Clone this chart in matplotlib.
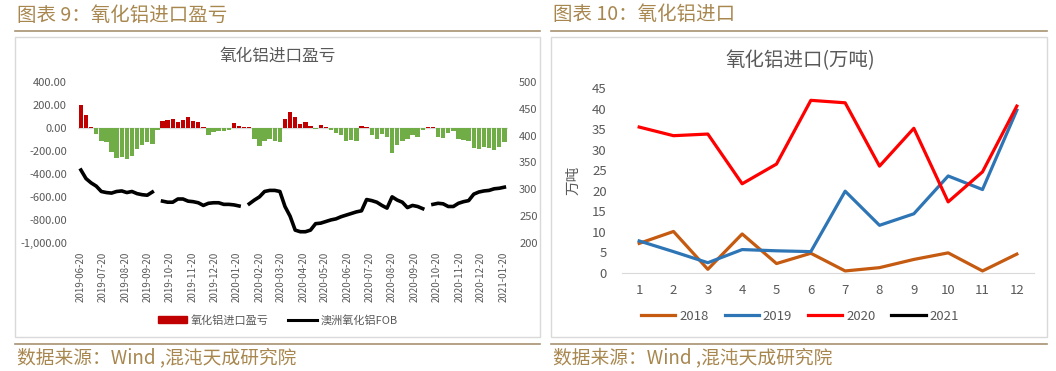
import matplotlib
matplotlib.use("Agg")
import matplotlib.pyplot as plt
import matplotlib.dates as mdates
from matplotlib.lines import Line2D
from matplotlib.patches import Patch, Rectangle
from matplotlib.ticker import FuncFormatter
import numpy as np
import pandas as pd

plt.rcParams["font.family"] = ["Noto Sans CJK SC", "DejaVu Sans"]

W, H = 1056, 371
GRAY = "#595959"
GOLD = "#A8874F"
RULE = "#A89272"

# chart 9: weekly import profit/loss and Australian alumina FOB
WEEK_START = "2019-06-20"
PROFIT = [
    200, 110, 10, -50, -110, -125, -212, -264, -255, -270,
    -241, -183, -148, -125, -139, -15, 65, 72, 78, 56,
    70, 93, 64, 56, 10, -60, -37, -30, -30, -15,
    47, 20, 5, 8, -93, -160, -110, -95, -110, -125,
    80, 137, 93, 35, 50, 20, -10, 25, 8, -20,
    -40, -60, -117, -108, -117, 20, 8, -60, -93, -50,
    -78, -220, -150, -117, -93, -60, -78, -20, 10, 12,
    -78, -88, -40, -30, -93, -108, -117, -175, -180, -165,
    -175, -188, -165, -120,
]
FOB = [
    336, 320, 312, 306, 296, 294, 293, 296, 297, 294,
    296, 292, 290, 289, 295, np.nan, 278, 276, 276, 282,
    282, 278, 277, 275, 270, 274, 275, 275, 272, 272,
    271, 269, np.nan, 273, 280, 286, 296, 298, 298, 296,
    268, 250, 224, 221, 221, 224, 236, 237, 240, 243,
    245, 249, 252, 255, 258, 260, 281, 279, 276, 270,
    265, 286, 280, 276, 266, 270, 268, 264, np.nan, 272,
    274, 273, 268, 268, 274, 277, 279, 291, 295, 297,
    298, 301, 302, 304,
]
TICK_DATES = pd.date_range("2019-06-01", "2021-01-01", freq="MS") + pd.Timedelta(days=19)

# chart 10: monthly alumina imports (10k t)
MONTHS = list(range(1, 13))
IMPORTS = {
    "2018": [7.2, 10.1, 0.9, 9.5, 2.3, 4.8, 0.5, 1.3, 3.3, 4.9, 0.5, 4.6],
    "2019": [7.8, 5.2, 2.5, 5.7, 5.4, 5.2, 19.9, 11.6, 14.4, 23.6, 20.3, 39.6],
    "2020": [35.5, 33.4, 33.8, 21.7, 26.5, 42.0, 41.4, 26.0, 35.2, 17.3, 24.6, 40.6],
    "2021": [],
}
COLORS = {"2018": "#C55A11", "2019": "#2E75B6", "2020": "#FF0000", "2021": "#000000"}


def box(x0, y0, x1, y1):
    return [x0 / W, 1 - y1 / H, (x1 - x0) / W, (y1 - y0) / H]


fig = plt.figure(figsize=(W / 100, H / 100), dpi=100)

# frames, rules and captions
for x0, x1 in [(15, 540), (551, 1047)]:
    fig.patches.append(Rectangle((x0 / W, 1 - 337 / H), (x1 - x0) / W, 300 / H,
                                 transform=fig.transFigure, fill=False,
                                 edgecolor="#D9D9D9", linewidth=1))
    fig.add_artist(Line2D([x0 / W, x1 / W], [1 - 31 / H] * 2, color=RULE, lw=1.2))
    fig.add_artist(Line2D([x0 / W, x1 / W], [1 - 344 / H] * 2, color=RULE, lw=1.2))

fig.text(17 / W, 1 - 15 / H, "图表 9：氧化铝进口盈亏", color=GOLD, fontsize=14, va="center")
fig.text(553 / W, 1 - 15 / H, "图表 10：氧化铝进口", color=GOLD, fontsize=14, va="center")
for x in (17, 553):
    fig.text(x / W, 1 - 358 / H, "数据来源：Wind ,混沌天成研究院", color=GOLD, fontsize=13.5, va="center")

# ---- left chart ----
weeks = pd.date_range(WEEK_START, periods=len(PROFIT), freq="7D")
ax1 = fig.add_axes(box(78, 82, 508, 243))
bar_colors = ["#C00000" if v > 0 else "#70AD47" for v in PROFIT]
ax1.bar(weeks, PROFIT, width=6, color=bar_colors, linewidth=0, zorder=2)
ax1.axhline(0, color="#D9D9D9", lw=1, zorder=1)
ax1.set_ylim(-1000, 400)
ax1.set_yticks(range(-1000, 401, 200))
ax1.yaxis.set_major_formatter(FuncFormatter(lambda v, _: f"{v:,.2f}"))
ax1.set_xlim(pd.Timestamp("2019-06-16"), pd.Timestamp("2021-01-26"))
ax1.set_xticks(TICK_DATES)
ax1.xaxis.set_major_formatter(mdates.DateFormatter("%Y-%m-%d"))
ax1.tick_params(axis="x", rotation=90, labelsize=7, colors=GRAY, length=0, pad=6)
ax1.tick_params(axis="y", labelsize=8, colors=GRAY, length=0, pad=8)

ax2 = ax1.twinx()
ax2.plot(weeks, FOB, color="black", lw=2.6, zorder=3)
ax2.set_ylim(200, 500)
ax2.set_yticks(range(200, 501, 50))
ax2.tick_params(axis="y", labelsize=8, colors=GRAY, length=0, pad=8)
for a in (ax1, ax2):
    for s in a.spines.values():
        s.set_visible(False)

fig.text(278 / W, 1 - 56 / H, "氧化铝进口盈亏", color=GRAY, fontsize=12, ha="center", va="center")
fig.legend(handles=[Patch(color="#C00000", label="氧化铝进口盈亏"),
                    Line2D([], [], color="black", lw=2.2, label="澳洲氧化铝FOB")],
           loc="center", bbox_to_anchor=(278 / W, 1 - 320 / H), ncol=2, frameon=False,
           fontsize=8, labelcolor=GRAY, handlelength=2.6, handleheight=0.5,
           columnspacing=1.8, handletextpad=0.3)

# ---- right chart ----
ax3 = fig.add_axes(box(622, 88, 1034, 273))
for year, vals in IMPORTS.items():
    ax3.plot(MONTHS[:len(vals)], vals, color=COLORS[year], lw=2.3, label=year)
ax3.set_xlim(0.5, 12.5)
ax3.set_ylim(0, 45)
ax3.set_xticks(MONTHS)
ax3.set_yticks(range(0, 46, 5))
ax3.tick_params(labelsize=9.5, colors=GRAY, length=0)
ax3.tick_params(axis="y", pad=11)
ax3.tick_params(axis="x", pad=8)
for name, s in ax3.spines.items():
    s.set_visible(name == "bottom")
ax3.spines["bottom"].set_color("#D9D9D9")
ax3.set_ylabel("万吨", color=GRAY, fontsize=10.5, labelpad=4)
ax3.yaxis.set_label_coords(-0.1, 0.5)

fig.text(800 / W, 1 - 61 / H, "氧化铝进口(万吨)", color=GRAY, fontsize=14, ha="center", va="center")
ax3.legend(loc="center", bbox_to_anchor=(800 / W, 1 - 316 / H), bbox_transform=fig.transFigure,
           ncol=4, frameon=False, fontsize=9.5, labelcolor=GRAY, handlelength=2.6,
           columnspacing=1.2, handletextpad=0.3)

fig.savefig("out.png", dpi=100)
